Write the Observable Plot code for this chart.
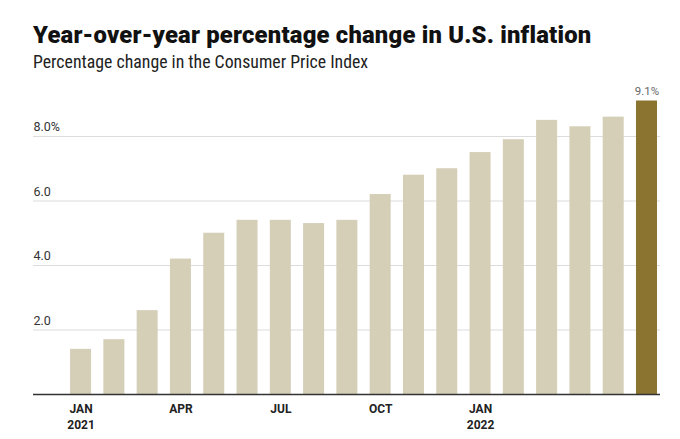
<!DOCTYPE html>
<html>
<head>
<meta charset="utf-8">
<script src="https://cdn.jsdelivr.net/npm/d3@7"></script>
<script src="https://cdn.jsdelivr.net/npm/@observablehq/plot@0.6"></script>
<style>
  html, body { margin: 0; padding: 0; background: #fff; }
  #wrap { width: 680px; height: 439px; position: relative; overflow: hidden; }
  #head { position: relative; height: 75px; }
  #title { position: absolute; left: 33px; top: 21px; font-family: Roboto, "Liberation Sans", sans-serif; font-weight: 900; font-size: 23.8px; color: #111; white-space: nowrap; letter-spacing: 0.2px; }
  #subtitle { position: absolute; left: 33px; top: 51px; font-family: "Liberation Sans Narrow", "Roboto Condensed", sans-serif; font-size: 17.8px; color: #222; white-space: nowrap; }
  svg { display: block; }
</style>
</head>
<body>
<div id="wrap">
  <div id="head">
    <div id="title">Year-over-year percentage change in U.S. inflation</div>
    <div id="subtitle">Percentage change in the Consumer Price Index</div>
  </div>
  <div id="chart"></div>
</div>
<script>
const months = ["2021-01","2021-02","2021-03","2021-04","2021-05","2021-06","2021-07","2021-08","2021-09","2021-10","2021-11","2021-12","2022-01","2022-02","2022-03","2022-04","2022-05","2022-06"];
const values = [1.4, 1.7, 2.6, 4.2, 5.0, 5.4, 5.4, 5.3, 5.4, 6.2, 6.8, 7.0, 7.5, 7.9, 8.5, 8.3, 8.6, 9.1];
const xTicks = ["2021-01","2021-04","2021-07","2021-10","2022-01"];
const xTickLabels = ["JAN\n2021","APR","JUL","OCT","JAN\n2022"];
const yTicks = [2, 4, 6, 8];
const yTickLabels = ["2.0", "4.0", "6.0", "8.0%"];
const lastLabel = "9.1%";

const data = months.map((m, i) => ({month: m, value: values[i]}));
const last = data[data.length - 1];

const light = "#d5cfb7";
const dark = "#8b742f";

const chart = Plot.plot({
  width: 680,
  height: 364,
  marginLeft: 33,
  marginRight: 20,
  marginTop: 12.6,
  marginBottom: 45,
  style: {fontFamily: "Roboto, sans-serif", background: "#fff"},
  x: {domain: months, paddingInner: 0.369, paddingOuter: 0.602, align: 0.925, round: false, axis: null, label: null},
  y: {domain: [0, 9.5], axis: null},
  marks: [
    Plot.ruleY(yTicks, {stroke: "#dcdcdc", strokeWidth: 1.2}),
    Plot.text(yTicks, {y: d => d, text: (d, i) => yTickLabels[i], frameAnchor: "left", textAnchor: "start", dy: -9, fontSize: 12.5, fill: "#333"}),
    Plot.barY(data, {x: "month", y: "value", fill: d => d.month === last.month ? dark : light}),
    Plot.ruleY([0], {stroke: "#333", strokeWidth: 1.5}),
    Plot.text([last], {x: "month", y: "value", text: () => lastLabel, dy: -10, fontSize: 11.5, fill: "#666"}),
    Plot.axisX(xTicks, {tickSize: 0, tickPadding: 7, label: null, tickFormat: (d) => xTickLabels[xTicks.indexOf(d)], fontWeight: "bold", fontSize: 12, fill: "#222", lineHeight: 1.35})
  ]
});
document.getElementById("chart").appendChild(chart);
</script>
</body>
</html>
